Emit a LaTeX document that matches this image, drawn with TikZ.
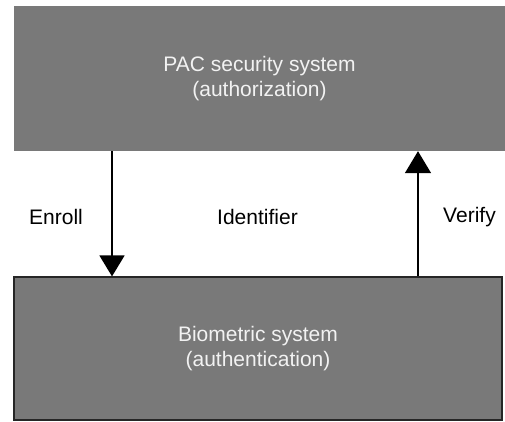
\documentclass[tikz,border=0pt]{standalone}
\usepackage{fontspec}
\setmainfont{Liberation Sans}
\usepackage{tikz}
\usetikzlibrary{arrows.meta,positioning}
\definecolor{boxgray}{RGB}{121,121,121}
\definecolor{boxtext}{RGB}{242,242,242}

\begin{document}
\begin{tikzpicture}[x=1pt,y=-1pt]
	\useasboundingbox[fill=white] (0,0) rectangle (505,422);
	\begin{scope}[every node/.style={fill=boxgray,align=center,text=boxtext,inner sep=0pt,font=\fontsize{21}{25}\selectfont}]
		\node[minimum width=491pt,minimum height=145pt] (pac) at (259.5,78.5) {PAC security system\\(authorization)};
		\node[draw=black!85,line width=1.2pt,minimum width=488pt,minimum height=143pt] (bio) at (258,348.5) {Biometric system\\(authentication)};
	\end{scope}
	\begin{scope}[every node/.style={font=\fontsize{21}{25}\selectfont}]
		\node (enroll) at (56,217) {Enroll};
		\node (ident) at (257.5,217) {Identifier};
		\node (verify) at (469.5,217) {Verify};
	\end{scope}
	\begin{scope}[line width=1.6pt]
		\draw[-{Triangle[length=21pt,width=25pt]}] ([xshift=-146pt]bio.north |- pac.south) -- ([xshift=-146pt]bio.north);
		\draw[-{Triangle[length=22pt,width=26pt]}] ([xshift=160pt]bio.north) -- ([xshift=160pt]bio.north |- pac.south);
	\end{scope}
\end{tikzpicture}
\end{document}
